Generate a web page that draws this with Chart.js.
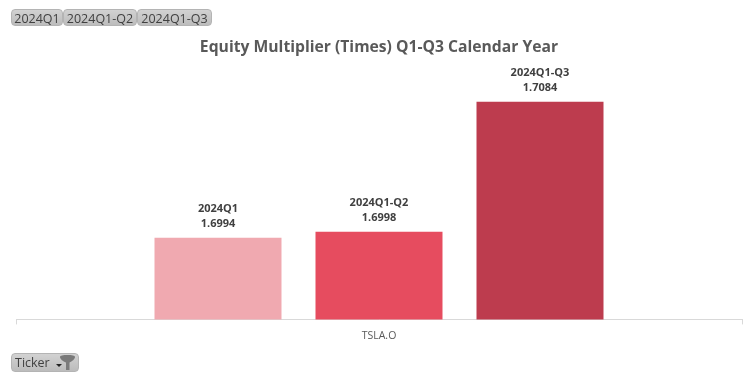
<!DOCTYPE html>
<html>
<head>
<meta charset="utf-8">
<script src="https://cdn.jsdelivr.net/npm/chart.js@4"></script>
<style>
  html, body { margin: 0; padding: 0; background: #fff; }
  #wrap { position: relative; width: 756px; height: 378px; overflow: hidden; }
  .chip {
    position: absolute; box-sizing: border-box; height: 17px; line-height: 16px;
    background: linear-gradient(#d2d2d2, #bcbcbc); border: 1px solid #b4b4b4; border-radius: 4px;
    font: 12.5px "Open Sans", sans-serif; color: #404040; text-align: center; white-space: nowrap;
  }
</style>
</head>
<body>
<div id="wrap">
  <canvas id="chart" width="756" height="378"></canvas>
  <div class="chip" style="left:11px;top:9px;width:52px">2024Q1</div>
  <div class="chip" style="left:63px;top:9px;width:74px">2024Q1-Q2</div>
  <div class="chip" style="left:137px;top:9px;width:75px">2024Q1-Q3</div>
  <div class="chip" style="left:11px;top:353px;width:68px;height:19px;line-height:17px;text-align:left;padding-left:3px">Ticker
    <svg width="24" height="18" style="position:absolute;left:42px;top:0" viewBox="0 0 24 18">
      <path d="M2 10h6l-3 3z" fill="#222"/>
      <path d="M6 3c0-1.5 3-2 7.500-2s7.500 .5 7.500 2c0 2-3 4.500-5.500 5.500V16h-3.500V8.500C9 7.500 6 5 6 3z" fill="#7a7a7a"/>
    </svg>
  </div>
</div>
<script>
//data
const categories = ['TSLA.O'];
const periods = ['2024Q1', '2024Q1-Q2', '2024Q1-Q3'];
const values = [1.6994, 1.6998, 1.7084];
const colors = ['#f0a9b0', '#e64c5f', '#bd3c4e'];

//labels above the bars, two lines: period then value
const barLabels = {
    id: 'barLabels',
    afterDatasetsDraw(chart) {
        const ctx = chart.ctx;
        ctx.save();
        ctx.font = 'bold 11px "Open Sans", sans-serif';
        ctx.fillStyle = '#404040';
        ctx.textAlign = 'center';
        chart.data.datasets.forEach((ds, i) => {
            const bar = chart.getDatasetMeta(i).data[0];
            ctx.fillText(ds.label, bar.x, bar.y - 26);
            ctx.fillText(ds.data[0].toFixed(4), bar.x, bar.y - 11);
        });
        ctx.restore();
    }
};

const chart = new Chart(document.getElementById('chart'), {
    type: 'bar',
    data: {
        labels: categories,
        datasets: periods.map((p, i) => ({
            label: p,
            data: [values[i]],
            backgroundColor: colors[i],
            categoryPercentage: 0.6653,
            barPercentage: 0.7888
        }))
    },
    options: {
        responsive: false,
        animation: false,
        layout: { padding: { left: 16, right: 14, top: 30, bottom: 31 } },
        plugins: {
            legend: { display: false },
            tooltip: { enabled: false },
            title: {
                display: true,
                text: 'Equity Multiplier (Times) Q1-Q3 Calendar Year',
                color: '#595959',
                font: { family: '"Open Sans", sans-serif', size: 15.7, weight: 'bold' },
                padding: { top: 8, bottom: 8 }
            }
        },
        scales: {
            x: {
                grid: { display: true, drawOnChartArea: false, color: '#d9d9d9', tickLength: 5 },
                border: { color: '#d9d9d9' },
                ticks: { color: '#595959', font: { family: '"Open Sans", sans-serif', size: 10.5 }, padding: 5 }
            },
            y: { display: false, min: 1.694, max: 1.71085 }
        }
    },
    plugins: [barLabels]
});
</script>
</body>
</html>
